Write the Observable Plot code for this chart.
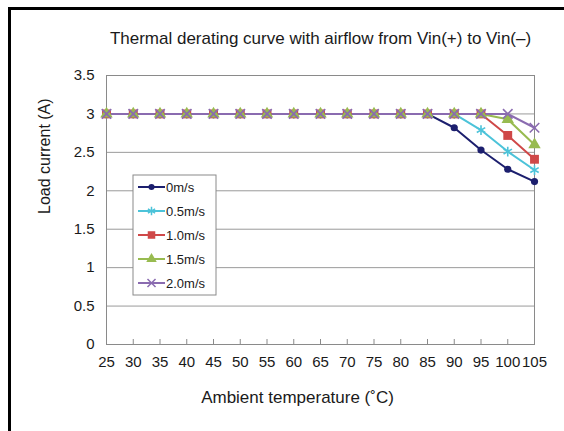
<!DOCTYPE html>
<html>
<head>
<meta charset="utf-8">
<script src="https://cdn.jsdelivr.net/npm/d3@7"></script>
<script src="https://cdn.jsdelivr.net/npm/@observablehq/plot@0.6"></script>
<style>
  html, body { margin: 0; padding: 0; background: #fff; }
  #wrap { position: relative; width: 564px; height: 431px; overflow: hidden; background: #fff; font-family: "Liberation Sans", Arial, sans-serif; }
  #border { position: absolute; left: 8px; top: 7px; right: -10px; bottom: -10px; border-left: 3px solid #000; border-top: 3px solid #000; pointer-events: none; }
  #chart { position: absolute; left: 0; top: 0; }
</style>
</head>
<body>
<div id="wrap"><div id="chart"></div><div id="border"></div></div>
<script>
const titleText = "Thermal derating curve with airflow from Vin(+) to Vin(\u2013)";
const xLabel = "Ambient temperature (\u02DAC)";
const yLabel = "Load current (A)";
const temps = [25, 30, 35, 40, 45, 50, 55, 60, 65, 70, 75, 80, 85, 90, 95, 100, 105];
const yTicks = [0, 0.5, 1, 1.5, 2, 2.5, 3, 3.5];
const seriesNames = ["0m/s", "0.5m/s", "1.0m/s", "1.5m/s", "2.0m/s"];
const v0  = [3, 3, 3, 3, 3, 3, 3, 3, 3, 3, 3, 3, 3, 2.82, 2.53, 2.28, 2.12];
const v05 = [3, 3, 3, 3, 3, 3, 3, 3, 3, 3, 3, 3, 3, 3, 2.79, 2.51, 2.27];
const v10 = [3, 3, 3, 3, 3, 3, 3, 3, 3, 3, 3, 3, 3, 3, 3, 2.72, 2.41];
const v15 = [3, 3, 3, 3, 3, 3, 3, 3, 3, 3, 3, 3, 3, 3, 3, 2.93, 2.60];
const v20 = [3, 3, 3, 3, 3, 3, 3, 3, 3, 3, 3, 3, 3, 3, 3, 3, 2.82];
const seriesValues = [v0, v05, v10, v15, v20];
const colors = ["#1c1f6e", "#4cc3d9", "#cf4848", "#98bb50", "#8a6bb0"];
const symbols = ["circle", "asterisk", "square", "triangle", "times"];
const symbolR = [3.6, 4.6, 5.0, 4.6, 4.4];
const filled = [true, false, true, true, false];

const rows = [];
seriesNames.forEach((s, i) => temps.forEach((t, j) => rows.push({series: s, idx: i, t, v: seriesValues[i][j]})));

const W = 564, H = 431, mL = 106, mR = 30, mT = 75, mB = 87;
const plotH = H - mT - mB;

const marks = [
  Plot.gridY(yTicks, {stroke: "#9a9a9a", strokeOpacity: 1}),
  Plot.frame({stroke: "#8a8a8a"}),
  Plot.tickX(temps, {x: d => d, insetTop: plotH - 5, stroke: "#8a8a8a"}),
  Plot.axisX({ticks: temps, tickSize: 0, tickPadding: 12, label: null, fontSize: 15, tickFormat: d => String(d)}),
  Plot.axisY({ticks: yTicks, tickSize: 0, tickPadding: 12, label: null, fontSize: 15, tickFormat: d => String(d)}),
  Plot.text([titleText], {frameAnchor: "top", lineAnchor: "middle", dy: -37, fontSize: 17, fill: "#1a1a1a"}),
  Plot.text([xLabel], {frameAnchor: "bottom", lineAnchor: "middle", dx: -23, dy: 53.5, fontSize: 17, fill: "#1a1a1a"}),
  Plot.text([yLabel], {frameAnchor: "left", lineAnchor: "middle", dx: -62, dy: 4, rotate: -90, fontSize: 16, fill: "#1a1a1a"})
];
seriesNames.forEach((s, i) => {
  const d = rows.filter(r => r.idx === i);
  marks.push(Plot.line(d, {x: "t", y: "v", stroke: colors[i], strokeWidth: 2}));
});
seriesNames.forEach((s, i) => {
  const d = rows.filter(r => r.idx === i);
  marks.push(Plot.dot(d, filled[i]
    ? {x: "t", y: "v", symbol: () => symbols[i], r: symbolR[i], fill: colors[i], stroke: "none"}
    : {x: "t", y: "v", symbol: () => symbols[i], r: symbolR[i], fill: "none", stroke: colors[i], strokeWidth: 1.6}));
});

const chart = Plot.plot({
  width: W, height: H,
  marginLeft: mL, marginRight: mR, marginTop: mT, marginBottom: mB,
  style: {fontFamily: "'Liberation Sans', Arial, sans-serif", fontSize: "15px", color: "#1a1a1a", background: "transparent"},
  x: {domain: [25, 105]},
  y: {domain: [0, 3.5]},
  symbol: {type: "identity"},
  marks
});
document.getElementById("chart").appendChild(chart);

// Legend box inside the plot area
const svg = d3.select(chart);
const lg = svg.append("g").attr("transform", "translate(133,175)");
lg.append("rect").attr("width", 83).attr("height", 120).attr("fill", "#fff").attr("stroke", "#8a8a8a");
const symMap = {circle: d3.symbolCircle, asterisk: d3.symbolAsterisk, square: d3.symbolSquare, triangle: d3.symbolTriangle, times: d3.symbolTimes};
seriesNames.forEach((s, i) => {
  const y = 12 + i * 24;
  const g = lg.append("g").attr("transform", `translate(0,${y})`);
  g.append("line").attr("x1", 5).attr("x2", 32).attr("y1", 0).attr("y2", 0).attr("stroke", colors[i]).attr("stroke-width", 2);
  const path = d3.symbol(symMap[symbols[i]], Math.PI * (symbolR[i] * 0.85) ** 2)();
  const p = g.append("path").attr("d", path).attr("transform", "translate(18.5,0)");
  if (filled[i]) p.attr("fill", colors[i]); else p.attr("fill", "none").attr("stroke", colors[i]).attr("stroke-width", 1.5);
  g.append("text").attr("x", 33).attr("y", 0).attr("dy", "0.35em").attr("text-anchor", "start")
    .attr("font-size", 13).attr("fill", "#1a1a1a").text(s);
});
</script>
</body>
</html>
